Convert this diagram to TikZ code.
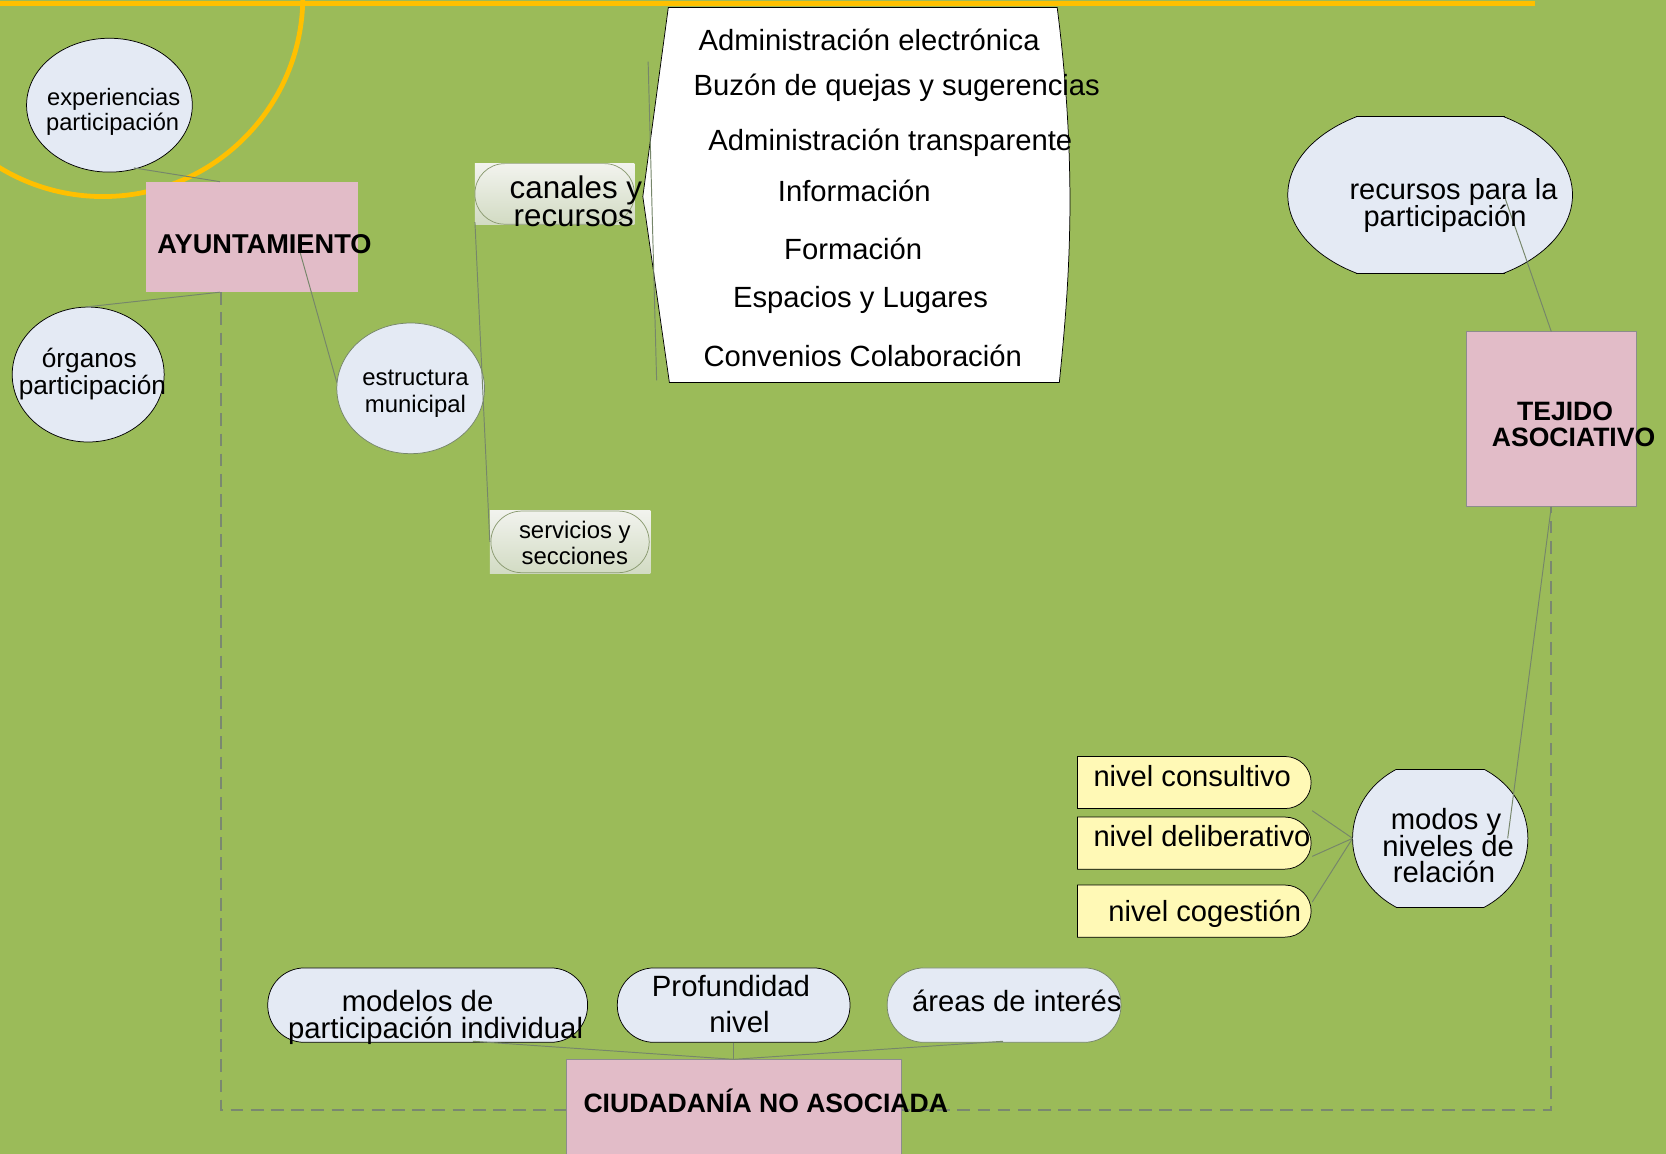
\documentclass[tikz,border=0pt]{standalone}
\usepackage{fontspec}
\setmainfont{Liberation Sans}
\usetikzlibrary{shapes.geometric,shapes.misc}
\definecolor{bggreen}{HTML}{9BBB59}
\definecolor{gold}{HTML}{FFC000}
\definecolor{ellfill}{HTML}{E4EAF4}
\definecolor{pinkbox}{HTML}{E2BCC8}
\definecolor{ylwbox}{HTML}{FFF9B6}
\definecolor{conncol}{HTML}{76866A}
\definecolor{dashcol}{HTML}{7A8870}
\definecolor{boxedge}{HTML}{8C8C8C}
\definecolor{pilledge}{HTML}{8A9A70}
\definecolor{shtop}{HTML}{F2F3EE}
\definecolor{shbot}{HTML}{D2DBC3}
\newcommand{\fsz}[1]{\fontsize{#1}{#1}\selectfont}
\begin{document}
\begin{tikzpicture}[x=1pt,y=-1pt,
  txt/.style={inner sep=0pt,anchor=base},
  txtl/.style={inner sep=0pt,anchor=base west},
  conn/.style={draw=conncol,line width=0.9pt},
  ell/.style={ellipse,inner sep=0pt,fill=ellfill,draw=black,line width=0.7pt},
  pinkrect/.style={rectangle,inner sep=0pt,fill=pinkbox},
  pill/.style={rectangle,inner sep=0pt,rounded corners=#1,fill=ellfill,draw=black,line width=0.7pt},
  nivbox/.style={rounded rectangle,rounded rectangle left arc=none,inner sep=0pt,fill=ylwbox,draw=black,line width=0.7pt,minimum width=220pt,minimum height=49pt},
  shbox/.style={rectangle,inner sep=0pt,top color=shtop,bottom color=shbot,draw=none},
  shpill/.style={rectangle,inner sep=0pt,rounded corners=#1,draw=pilledge,line width=0.7pt}
]
\fill[bggreen] (0,0) rectangle (1568,1086);
\useasboundingbox (0,0) rectangle (1568,1086);

% yellow decoration
\draw[gold,line width=4.5pt] (97,-3) circle[radius=188pt];
\draw[gold,line width=4.5pt] (0,3) -- (1445,3);

% dashed frame
\coordinate (dA) at (208,275);
\coordinate (dB) at (208,1045);
\coordinate (dC) at (1460,1045);
\coordinate (dD) at (1460,477);
\draw[dashcol,line width=2pt,dash pattern=on 12pt off 7pt] (dA) -- (dB) -- (dC) -- (dD);

% main boxes
\node[pinkrect,minimum width=200pt,minimum height=104pt] (ayto) at (237,223) {};
\node[pinkrect,draw=boxedge,line width=0.8pt,minimum width=160pt,minimum height=165pt] (tejido) at (1460,394.5) {};
\node[pinkrect,draw=boxedge,line width=0.8pt,minimum width=315pt,minimum height=93pt] (ciud) at (690.5,1043.5) {};

% ellipses
\node[ell,minimum width=156pt,minimum height=126pt] (exper) at (103,99) {};
\node[ell,minimum width=143pt,minimum height=127pt] (organos) at (83,352.5) {};
\node[ell,draw=conncol,minimum width=139pt,minimum height=123pt] (estruct) at (386.5,365.5) {};

% clipped ellipses
\begin{scope}
\clip (1200,109.5) rectangle (1500,257.5);
\node[ell,minimum width=268pt,minimum height=172pt] (recur) at (1346,183.5) {};
\end{scope}
\draw[black,line width=0.7pt] (1276,109.5) -- (1416,109.5);
\draw[black,line width=0.7pt] (1276,257.5) -- (1416,257.5);
\begin{scope}
\clip (1260,724) rectangle (1450,854);
\node[ell,minimum width=165pt,minimum height=150pt] (modos) at (1355.5,789) {};
\end{scope}
\draw[black,line width=0.7pt] (1314.3,724) -- (1396.7,724);
\draw[black,line width=0.7pt] (1314.3,854) -- (1396.7,854);

% shaded pills
\node[shbox,minimum width=150pt,minimum height=57pt] (canbg) at (522,182.5) {};
\node[shpill=28pt,minimum width=150pt,minimum height=57pt] (canales) at (522,182.5) {};
\node[shbox,minimum width=151pt,minimum height=60pt] (serbg) at (536.5,510) {};
\node[shpill=29pt,minimum width=149pt,minimum height=58pt] (servicios) at (536.5,510) {};

% white callout
\coordinate (wA) at (629,7);
\coordinate (wB) at (995,7);
\coordinate (wC) at (1007,190);
\coordinate (wD) at (997,360);
\coordinate (wE) at (630,360);
\coordinate (wF) at (605,185);
\draw[fill=white,draw=black,line width=0.7pt] (wA) -- (wB)
  .. controls (1003,70) and (1007,130) .. (wC)
  .. controls (1007,260) and (1001,320) .. (wD) -- (wE) -- (wF) -- cycle;

% nivel boxes
\node[nivbox] (consul) at (1124,736.5) {};
\node[nivbox] (delib) at (1124,793.5) {};
\node[nivbox] (coges) at (1124,857.5) {};

% bottom pills
\node[pill=34.5pt,minimum width=301pt,minimum height=70pt] (modelos) at (402.5,946) {};
\node[pill=34.5pt,minimum width=219pt,minimum height=70pt] (profund) at (690.5,946) {};
\node[pill=34.5pt,draw=conncol,minimum width=220pt,minimum height=70pt] (areas) at (945,946) {};

% connectors
\coordinate (c1a) at (126,158);  \coordinate (c1b) at (207,171);
\draw[conn] (c1a) -- (c1b);
\coordinate (c2a) at (80,289);   \coordinate (c2b) at (207,275);
\draw[conn] (c2a) -- (c2b);
\coordinate (c3a) at (282,236);  \coordinate (c3b) at (317,360);
\draw[conn] (c3a) -- (c3b);
\coordinate (c4a) at (447,209);  \coordinate (c4b) at (461,510);
\draw[conn] (c4a) -- (c4b);
\coordinate (c5a) at (610,58);   \coordinate (c5b) at (618,358);
\draw[conn] (c5a) -- (c5b);
\coordinate (c6a) at (1416,185); \coordinate (c6b) at (1460,312);
\draw[conn] (c6a) -- (c6b);
\coordinate (c7a) at (1460,477); \coordinate (c7b) at (1419,789);
\draw[conn] (c7a) -- (c7b);
\coordinate (mL) at (1273,789);
\coordinate (n1) at (1235,763);
\coordinate (n2) at (1235,806);
\coordinate (n3) at (1235,849);
\draw[conn] (mL) -- (n1);
\draw[conn] (mL) -- (n2);
\draw[conn] (mL) -- (n3);
\coordinate (cTop) at (690.5,997);
\coordinate (b1) at (445,980);
\coordinate (b3) at (944,980);
\draw[conn] (b1) -- (cTop);
\draw[conn] (profund.south) -- (cTop);
\draw[conn] (b3) -- (cTop);

% texts
\node[txt,font={\fsz{22.3}}] (t1) at (107,99) {experiencias};
\node[txt,font={\fsz{22.3}}] (t2) at (106,123) {participación};
\node[txtl,font={\fsz{25.6}\bfseries}] (t3) at (148,239) {AYUNTAMIENTO};
\node[txt,font={\fsz{24.7}}] (t4) at (84,346) {órganos};
\node[txt,font={\fsz{24.7}}] (t5) at (87,371) {participación};
\node[txt,font={\fsz{22.5}}] (t6) at (391,363) {estructura};
\node[txt,font={\fsz{22.5}}] (t7) at (391,388) {municipal};
\node[txt,font={\fsz{29.5}}] (t8) at (542,187) {canales y};
\node[txt,font={\fsz{29.5}}] (t9) at (540,213) {recursos};
\node[txt,font={\fsz{22.5}}] (t10) at (541,507) {servicios y};
\node[txt,font={\fsz{22.5}}] (t11) at (541,531) {secciones};

\node[txt,font={\fsz{27.5}}] (w1) at (818,48) {Administración electrónica};
\node[txt,font={\fsz{27.5}}] (w2) at (844,90) {Buzón de quejas y sugerencias};
\node[txt,font={\fsz{27.5}}] (w3) at (838,142) {Administración transparente};
\node[txt,font={\fsz{27.5}}] (w4) at (804,190) {Información};
\node[txt,font={\fsz{27.5}}] (w5) at (803,244) {Formación};
\node[txt,font={\fsz{27.5}}] (w6) at (810,289) {Espacios y Lugares};
\node[txt,font={\fsz{27.5}}] (w7) at (812,345) {Convenios Colaboración};

\node[txt,font={\fsz{27.3}}] (r1) at (1368,188) {recursos para la};
\node[txt,font={\fsz{27.3}}] (r2) at (1360,213) {participación};
\node[txt,font={\fsz{25}\bfseries}] (r3) at (1473,396) {TEJIDO};
\node[txt,font={\fsz{25}\bfseries}] (r4) at (1481,420) {ASOCIATIVO};

\node[txt,font={\fsz{27.5}}] (m1) at (1361,781) {modos y};
\node[txt,font={\fsz{27.5}}] (m2) at (1363,806) {niveles de};
\node[txt,font={\fsz{27.5}}] (m3) at (1359,831) {relación};
\node[txtl,font={\fsz{27.4}}] (m4) at (1029,740) {nivel consultivo};
\node[txtl,font={\fsz{27.4}}] (m5) at (1029,797) {nivel deliberativo};
\node[txtl,font={\fsz{27.4}}] (m6) at (1043,867) {nivel cogestión};

\node[txt,font={\fsz{27.6}}] (b4) at (393,952) {modelos de};
\node[txt,font={\fsz{27.6}}] (b5) at (410,977) {participación individual};
\node[txt,font={\fsz{27.6}}] (b6) at (688,938) {Profundidad};
\node[txt,font={\fsz{27.6}}] (b7) at (696,972) {nivel};
\node[txt,font={\fsz{27.5}}] (b8) at (957,952) {áreas de interés};
\node[txtl,font={\fsz{25}\bfseries}] (b9) at (549,1047) {CIUDADANÍA NO ASOCIADA};
\end{tikzpicture}
\end{document}
